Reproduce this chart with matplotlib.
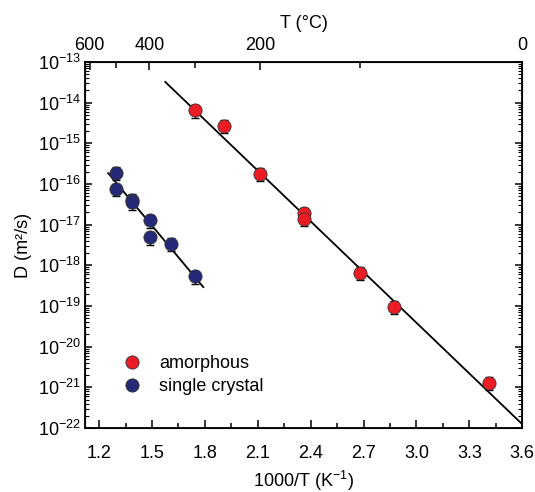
import numpy as np
import matplotlib
matplotlib.use("Agg")
import matplotlib.pyplot as plt
from matplotlib.ticker import LogLocator, MultipleLocator, NullFormatter, FixedLocator

plt.rcParams['font.family'] = ['Liberation Sans', 'DejaVu Sans']
plt.rcParams['mathtext.fontset'] = 'custom'
plt.rcParams['mathtext.rm'] = 'Liberation Sans'
plt.rcParams['mathtext.it'] = 'Liberation Sans:italic'

# amorphous (1000/T in K^-1, D in m^2/s)
amorph_x = [1.745, 1.911, 2.113, 2.363, 2.363, 2.680, 2.872, 3.411]
amorph_d = [6.6e-15, 2.7e-15, 1.8e-16, 1.95e-17, 1.4e-17, 6.6e-19, 9.6e-20, 1.3e-21]
amorph_err = [0.35, 0.35, 0.35, 0.35, 0.35, 0.35, 0.35, 0.35]

# single crystal
crystal_x = [1.294, 1.294, 1.387, 1.387, 1.486, 1.486, 1.605, 1.745]
crystal_d = [1.9e-16, 7.6e-17, 4.1e-17, 3.6e-17, 1.3e-17, 5.0e-18, 3.4e-18, 5.5e-19]
crystal_err = [0.35, 0.35, 0.35, 0.35, 0.35, 0.35, 0.35, 0.35]

# Arrhenius fits: log10(D) = intercept + slope * (1000/T)
amorph_fit = (-6.946, -4.155)
amorph_fit_range = (1.575, 3.592)
crystal_fit = (-9.24, -5.19)
crystal_fit_range = (1.251, 1.791)

top_major = [600, 400, 200, 0]
top_minor = [500, 300, 100]

red = '#ec1c24'
blue = '#252a78'

fig = plt.figure(figsize=(5.35, 4.92), dpi=100)
ax = fig.add_axes([0.159, 0.130, 0.817, 0.744])

xmin, xmax = 1.12, 3.6
fs = 13


def fit_line(ax, fit, xr):
    xs = np.linspace(xr[0], xr[1], 50)
    ax.plot(xs, 10 ** (fit[0] + fit[1] * xs), color='black', lw=1.3, zorder=2)


fit_line(ax, amorph_fit, amorph_fit_range)
fit_line(ax, crystal_fit, crystal_fit_range)

for xs, ds, errs, col, lab in [(amorph_x, amorph_d, amorph_err, red, 'amorphous'),
                               (crystal_x, crystal_d, crystal_err, blue, 'single crystal')]:
    ds = np.array(ds)
    ax.errorbar(xs, ds, yerr=np.array(errs) * ds, fmt='none', ecolor='black',
                elinewidth=1.0, capsize=3.2, capthick=1.0, zorder=3)
    ax.plot(xs, ds, 'o', ms=9.5, mfc=col, mec='#333333', mew=0.6, ls='none',
            zorder=4, label=lab)

ax.set_yscale('log')
ax.set_xlim(xmin, xmax)
ax.set_ylim(1e-22, 1e-13)
ax.xaxis.set_major_locator(FixedLocator([1.2, 1.5, 1.8, 2.1, 2.4, 2.7, 3.0, 3.3, 3.6]))
ax.xaxis.set_minor_locator(MultipleLocator(0.15))
ax.set_xticklabels(['1.2', '1.5', '1.8', '2.1', '2.4', '2.7', '3.0', '3.3', '3.6'])
ax.yaxis.set_major_locator(LogLocator(base=10, numticks=20))
ax.yaxis.set_minor_locator(LogLocator(base=10, subs=np.arange(2, 10), numticks=20))
ax.yaxis.set_minor_formatter(NullFormatter())
ax.tick_params(which='both', direction='in', right=True, labelsize=fs)
ax.tick_params(axis='x', which='major', length=6, width=1.1, pad=12)
ax.tick_params(axis='x', which='minor', length=3.5, width=1.1)
ax.tick_params(axis='y', which='major', length=5, width=1.1, pad=3)
ax.tick_params(axis='y', which='minor', length=3, width=0.8)
for s in ax.spines.values():
    s.set_linewidth(1.3)

ax.set_xlabel('1000/T (K$^{-1}$)', fontsize=fs, labelpad=5)
ax.set_ylabel('D (m²/s)', fontsize=fs, labelpad=4)

# top axis in degrees Celsius
top = ax.twiny()
top.set_xlim(xmin, xmax)
top.xaxis.set_major_locator(FixedLocator([min(1000 / (t + 273.15), xmax) for t in top_major]))
top.xaxis.set_minor_locator(FixedLocator([1000 / (t + 273.15) for t in top_minor]))
top.set_xticklabels([str(t) for t in top_major])
top.tick_params(which='both', direction='in', labelsize=fs, width=1.1)
top.tick_params(which='major', length=6, pad=6)
top.tick_params(which='minor', length=4)
top.set_xlabel('T (°C)', fontsize=fs, labelpad=6)

ax.legend(loc='lower left', bbox_to_anchor=(0.045, 0.045), frameon=False, fontsize=fs,
          handletextpad=0.9, labelspacing=0.35, handlelength=1.2)

fig.savefig('out.png', dpi=100)
